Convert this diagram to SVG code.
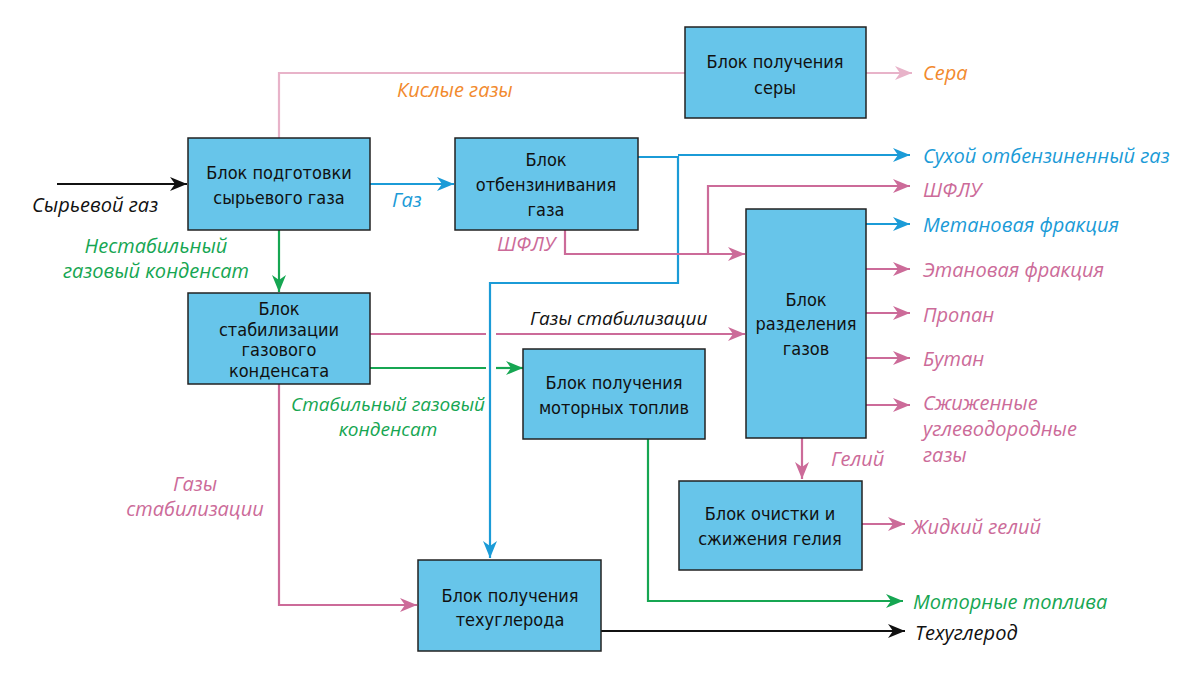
<svg xmlns="http://www.w3.org/2000/svg" width="1200" height="688" viewBox="0 0 1200 688">
<style>
.box{fill:#67c5ea;stroke:#222;stroke-width:1.5}
.bt{font-family:"DejaVu Sans Condensed","DejaVu Sans",sans-serif;font-size:18px;fill:#111;text-anchor:middle}
.lb{font-family:"Open Sans","DejaVu Sans",sans-serif;font-style:italic;font-size:20px}
.sm{font-size:19px}
.ln{fill:none;stroke-width:2.2}
.k{stroke:#111}.b{stroke:#1b9bd7}.p{stroke:#cc6b99}.lp{stroke:#e8b3c9}.g{stroke:#16a652}
.tk{fill:#111}.tb{fill:#1b9bd7}.tp{fill:#cc6b99}.to{fill:#f28a2e}.tg{fill:#16a652}
</style>
<defs>
<marker id="ak" markerUnits="userSpaceOnUse" markerWidth="18" markerHeight="14" refX="17" refY="7" orient="auto"><path d="M0,0 L17,7 L0,14 L5,7 z" fill="#111"/></marker>
<marker id="ab" markerUnits="userSpaceOnUse" markerWidth="18" markerHeight="14" refX="17" refY="7" orient="auto"><path d="M0,0 L17,7 L0,14 L5,7 z" fill="#1b9bd7"/></marker>
<marker id="ap" markerUnits="userSpaceOnUse" markerWidth="18" markerHeight="14" refX="17" refY="7" orient="auto"><path d="M0,0 L17,7 L0,14 L5,7 z" fill="#cc6b99"/></marker>
<marker id="alp" markerUnits="userSpaceOnUse" markerWidth="18" markerHeight="14" refX="17" refY="7" orient="auto"><path d="M0,0 L17,7 L0,14 L5,7 z" fill="#e8b3c9"/></marker>
<marker id="ag" markerUnits="userSpaceOnUse" markerWidth="18" markerHeight="14" refX="17" refY="7" orient="auto"><path d="M0,0 L17,7 L0,14 L5,7 z" fill="#16a652"/></marker>
</defs>
<rect width="1200" height="688" fill="#fff"/>
<g id="connectors">
<path class="ln k" d="M57 184 H187" marker-end="url(#ak)"/>
<path class="ln lp" d="M279 138 V73 H685"/>
<path class="ln lp" d="M866 73 H912" marker-end="url(#alp)"/>
<path class="ln b" d="M370 184 H454" marker-end="url(#ab)"/>
<path class="ln b" d="M638 157 H678 V283 H490 V558" marker-end="url(#ab)"/>
<path class="ln b" d="M678 155 H910" marker-end="url(#ab)"/>
<path class="ln p" d="M565 230 V254 H745" marker-end="url(#ap)"/>
<path class="ln p" d="M708 254 V186 H910" marker-end="url(#ap)"/>
<path class="ln b" d="M866 224 H910" marker-end="url(#ab)"/>
<path class="ln p" d="M866 269 H910" marker-end="url(#ap)"/>
<path class="ln p" d="M866 313 H910" marker-end="url(#ap)"/>
<path class="ln p" d="M866 358 H910" marker-end="url(#ap)"/>
<path class="ln p" d="M866 405 H910" marker-end="url(#ap)"/>
<path class="ln p" d="M802 438 V479" marker-end="url(#ap)"/>
<path class="ln p" d="M862 524 H905" marker-end="url(#ap)"/>
<path class="ln g" d="M279 230 V292" marker-end="url(#ag)"/>
<path class="ln p" d="M370 334 H486"/>
<path class="ln p" d="M496 334 H745" marker-end="url(#ap)"/>
<path class="ln g" d="M370 368 H486"/>
<path class="ln g" d="M496 368 H523" marker-end="url(#ag)"/>
<path class="ln p" d="M279 384 V605 H417" marker-end="url(#ap)"/>
<path class="ln g" d="M648 439 V601 H903" marker-end="url(#ag)"/>
<path class="ln k" d="M601 631 H905" marker-end="url(#ak)"/>
</g>
<g id="labels">
<text class="lb tk" x="32" y="212">Сырьевой газ</text>
<text class="lb to" x="397" y="97">Кислые газы</text>
<text class="lb to" x="923" y="80">Сера</text>
<text class="lb tb" x="392" y="207">Газ</text>
<text class="lb tb" x="923" y="163">Сухой отбензиненный газ</text>
<text class="lb tp" x="923" y="197">ШФЛУ</text>
<text class="lb tp" x="497" y="251">ШФЛУ</text>
<text class="lb tb" x="923" y="232">Метановая фракция</text>
<text class="lb tp" x="923" y="277">Этановая фракция</text>
<text class="lb tp" x="923" y="322">Пропан</text>
<text class="lb tp" x="923" y="366">Бутан</text>
<text class="lb tp" x="923" y="410">Сжиженные</text>
<text class="lb tp" x="923" y="436">углеводородные</text>
<text class="lb tp" x="923" y="462">газы</text>
<text class="lb tp" x="831" y="466">Гелий</text>
<text class="lb tp" x="912" y="534">Жидкий гелий</text>
<text class="lb tg" x="156" y="253" text-anchor="middle">Нестабильный</text>
<text class="lb tg" x="156" y="278" text-anchor="middle">газовый конденсат</text>
<text class="lb sm tk" x="530" y="325">Газы стабилизации</text>
<text class="lb sm tg" x="388" y="411" text-anchor="middle">Стабильный газовый</text>
<text class="lb sm tg" x="388" y="436" text-anchor="middle">конденсат</text>
<text class="lb tp" x="195" y="491" text-anchor="middle">Газы</text>
<text class="lb tp" x="195" y="516" text-anchor="middle">стабилизации</text>
<text class="lb tg" x="913" y="609">Моторные топлива</text>
<text class="lb tk" x="915" y="640">Техуглерод</text>
</g>
<g id="n-sera"><rect class="box" x="685" y="27" width="181" height="91"/><text class="bt" x="775" y="68">Блок получения</text><text class="bt" x="775" y="94">серы</text></g>
<g id="n-podg"><rect class="box" x="188" y="138" width="182" height="92"/><text class="bt" x="279" y="179">Блок подготовки</text><text class="bt" x="279" y="204">сырьевого газа</text></g>
<g id="n-otb"><rect class="box" x="455" y="138" width="183" height="92"/><text class="bt" x="546" y="166">Блок</text><text class="bt" x="546" y="191">отбензинивания</text><text class="bt" x="546" y="216">газа</text></g>
<g id="n-stab"><rect class="box" x="188" y="293" width="182" height="91"/><text class="bt" x="279" y="315">Блок</text><text class="bt" x="279" y="336">стабилизации</text><text class="bt" x="279" y="356">газового</text><text class="bt" x="279" y="377">конденсата</text></g>
<g id="n-motor"><rect class="box" x="523" y="349" width="182" height="90"/><text class="bt" x="614" y="389">Блок получения</text><text class="bt" x="614" y="414">моторных топлив</text></g>
<g id="n-razd"><rect class="box" x="746" y="209" width="120" height="229"/><text class="bt" x="806" y="306">Блок</text><text class="bt" x="806" y="330">разделения</text><text class="bt" x="806" y="355">газов</text></g>
<g id="n-gel"><rect class="box" x="679" y="481" width="183" height="89"/><text class="bt" x="770" y="520">Блок очистки и</text><text class="bt" x="770" y="545">сжижения гелия</text></g>
<g id="n-tech"><rect class="box" x="418" y="560" width="183" height="91"/><text class="bt" x="510" y="602">Блок получения</text><text class="bt" x="510" y="626">техуглерода</text></g>
</svg>
